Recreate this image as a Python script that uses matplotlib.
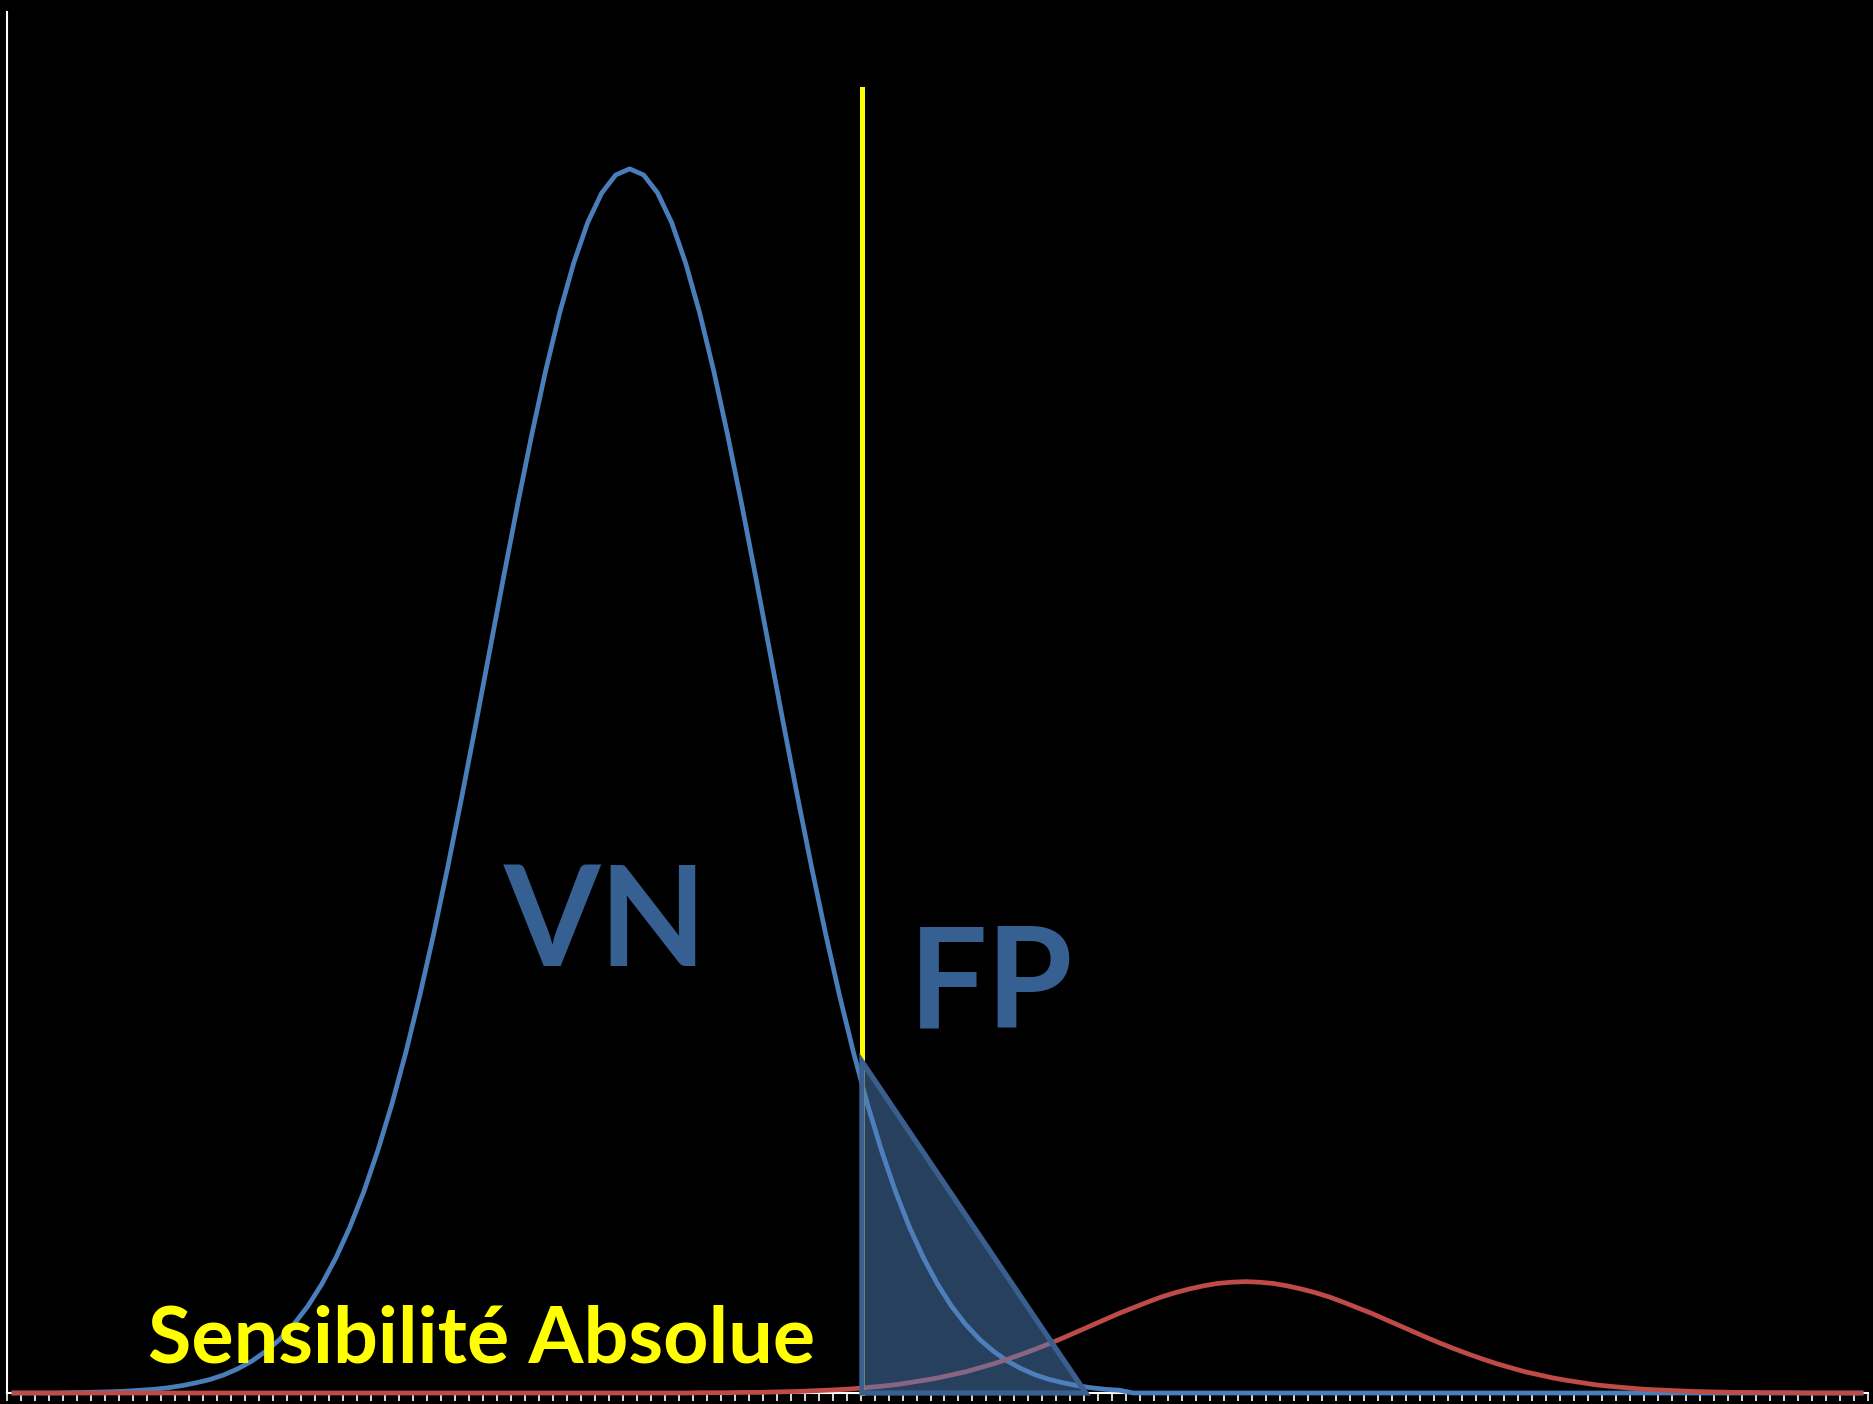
import matplotlib
matplotlib.use("Agg")
import matplotlib.pyplot as plt
import numpy as np

# 133 classes on the x axis (no labels), one value per class
negatives = ([0.0] * 4 + [
    0.01, 0.02, 0.03, 0.04, 0.06,
    0.09, 0.12, 0.17, 0.24, 0.33, 0.44, 0.59, 0.79, 1.04, 1.36,
    1.75, 2.24, 2.83, 3.55, 4.40, 5.40, 6.56, 7.90, 9.40, 11.09,
    12.95, 14.97, 17.14, 19.42, 21.78, 24.20, 26.61, 28.97, 31.22, 33.32,
    35.20, 36.82, 38.14, 39.10, 39.69, 39.89, 39.69, 39.10, 38.14, 36.82,
    35.20, 33.32, 31.22, 28.97, 26.61, 24.20, 21.78, 19.42, 17.14, 14.97,
    12.95, 11.09, 9.40, 7.90, 6.56, 5.40, 4.40, 3.55, 2.83, 2.24,
    1.75, 1.36, 1.04, 0.79, 0.59, 0.44, 0.33, 0.24, 0.17, 0.12,
    0.09] + [0.0] * 53)

positives = ([0.0] * 49 + [
    0.01, 0.01, 0.01, 0.02, 0.02, 0.03, 0.04, 0.05, 0.07, 0.09,
    0.11, 0.14, 0.18, 0.22, 0.27, 0.34, 0.41, 0.49, 0.59, 0.69,
    0.82, 0.95, 1.10, 1.26, 1.43, 1.61, 1.80, 2.00, 2.20, 2.40,
    2.60, 2.78, 2.96, 3.13, 3.27, 3.39, 3.49, 3.57, 3.61, 3.63,
    3.61, 3.57, 3.49, 3.39, 3.27, 3.13, 2.96, 2.78, 2.60, 2.40,
    2.20, 2.00, 1.80, 1.61, 1.43, 1.26, 1.10, 0.95, 0.82, 0.69,
    0.59, 0.49, 0.41, 0.34, 0.27, 0.22, 0.18, 0.14, 0.11, 0.09,
    0.07, 0.05, 0.04, 0.03, 0.02, 0.02, 0.01, 0.01, 0.01] + [0.0] * 5)

threshold_x = 60.6
threshold_top = 42.5

# false positive zone drawn as a triangle
fp_x = [60.6, 60.6, 76.6]
fp_y = [10.8, 0.0, 0.0]

BLUE = "#4A7EBB"
RED = "#BE4B48"
YELLOW = "#FFFF00"
LABEL_BLUE = "#376092"

x = np.arange(len(negatives))

fig = plt.figure(figsize=(18.73, 14.04), dpi=100, facecolor="black")
ax = fig.add_axes([7 / 1873, 11 / 1404, 1861 / 1873, 1381 / 1404])
ax.set_facecolor("black")

ax.plot(x, negatives, color=BLUE, linewidth=3.4, zorder=3, clip_on=False,
        solid_joinstyle="round")
ax.plot(x, positives, color=RED, linewidth=3.4, zorder=4, clip_on=False,
        solid_joinstyle="round")
ax.plot([threshold_x, threshold_x], [0, threshold_top], color=YELLOW,
        linewidth=3.6, zorder=5, clip_on=False)
ax.fill(fp_x, fp_y, facecolor="#4F81BD", alpha=0.5, zorder=6, clip_on=False)
ax.fill(fp_x, fp_y, facecolor="none", edgecolor="#3A5F8F", linewidth=3.8,
        zorder=7, clip_on=False, joinstyle="miter")

ax.text(42.3, 13.9, "VN", color=LABEL_BLUE, fontsize=100, fontweight="bold",
        family="Lato", ha="center", va="baseline", zorder=8)
ax.text(69.8, 11.9, "FP", color=LABEL_BLUE, fontsize=100, fontweight="bold",
        family="Lato", ha="center", va="baseline", zorder=8)
ax.text(9.6, 1.0, "Sensibilité Absolue", color=YELLOW, fontsize=57,
        fontweight="bold", family="Lato", ha="left", va="baseline", zorder=9)

ax.set_xlim(-0.5, len(negatives) - 0.5)
ax.set_ylim(0, 45)

for side in ("top", "right"):
    ax.spines[side].set_visible(False)
for side in ("left", "bottom"):
    ax.spines[side].set_color("white")
    ax.spines[side].set_linewidth(1.5)

ax.set_xticks(np.arange(len(negatives) + 1) - 0.5)
ax.tick_params(axis="x", direction="out", length=6, width=1.2, color="white",
               labelbottom=False)
ax.set_yticks([])

fig.savefig("out.png", dpi=100, facecolor="black")
